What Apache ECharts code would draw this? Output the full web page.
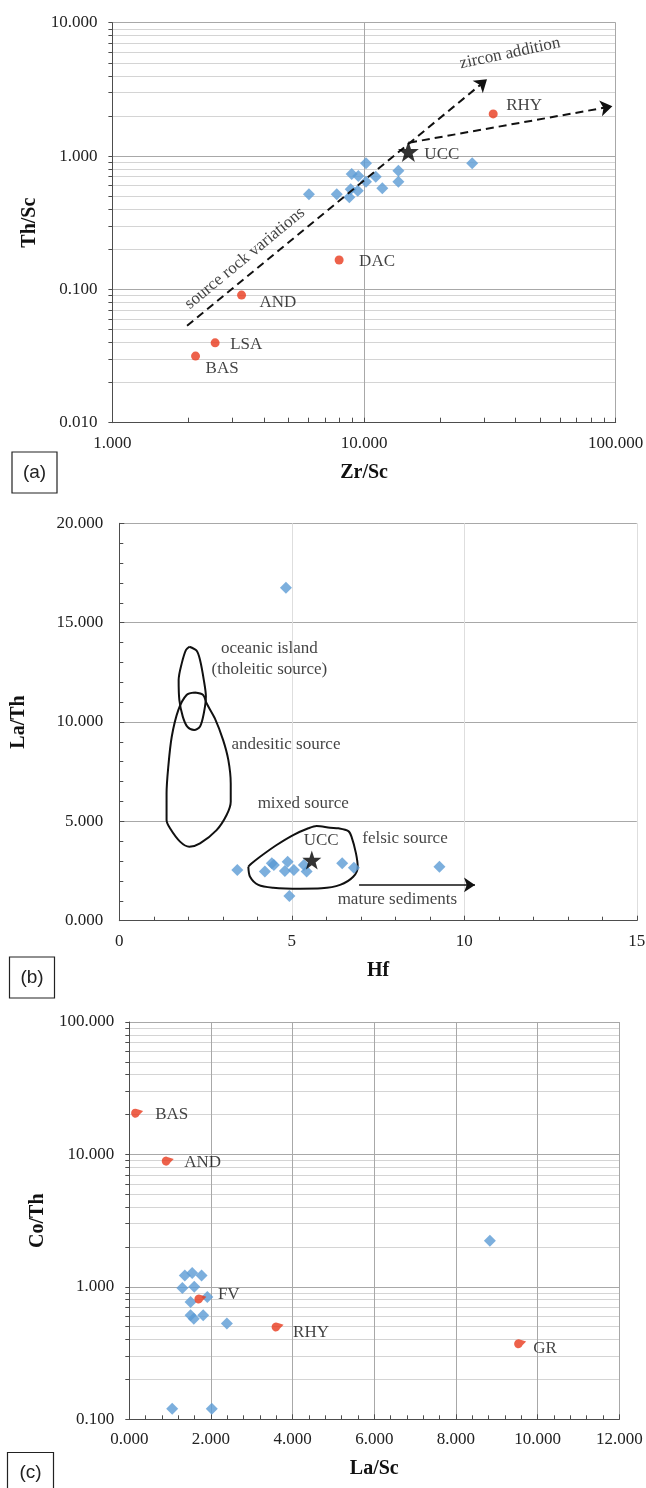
<!DOCTYPE html>
<html>
<head>
<meta charset="utf-8">
<script src="https://cdn.jsdelivr.net/npm/echarts@6/dist/echarts.min.js"></script>
<style>
  html, body { margin: 0; padding: 0; background: #ffffff; }
  #chart { width: 646px; height: 1488px; }
</style>
</head>
<body>
<div id="chart"></div>
<script>
// ---------- (a) Th/Sc vs Zr/Sc ----------
const zrScSamples = [6.04, 7.79, 8.74, 8.93, 9.49, 8.85, 9.44, 10.18, 10.18, 11.13, 11.82, 13.69, 13.69, 26.9];
const thScSamples = [0.516, 0.516, 0.490, 0.733, 0.708, 0.563, 0.549, 0.882, 0.641, 0.700, 0.573, 0.776, 0.641, 0.882];
const rockNamesA = ['BAS', 'LSA', 'AND', 'DAC', 'RHY'];
const zrScRocks = [2.14, 2.56, 3.26, 7.96, 32.6];
const thScRocks = [0.0316, 0.0397, 0.0906, 0.166, 2.07];
const uccZrSc = 15.0;
const uccThSc = 1.08;
const sourceRockTrend = [[1.98, 0.0533], [30.8, 3.76]];
const zirconTrend = [[15.1, 1.26], [97, 2.36]];
const logTicksA_x = [1, 10, 100];
const logTicksA_y = [0.01, 0.1, 1, 10];

// ---------- (b) La/Th vs Hf ----------
const hfSamples = [4.83, 3.42, 4.22, 4.42, 4.48, 4.80, 4.88, 5.06, 5.35, 5.43, 6.46, 6.80, 9.28, 4.93];
const laThSamples = [16.76, 2.55, 2.47, 2.89, 2.80, 2.50, 2.97, 2.55, 2.80, 2.47, 2.89, 2.67, 2.72, 1.24];
const uccHf = 5.58;
const uccLaTh = 3.05;
const oceanicIslandField = [
  [2.03, 13.79], [2.24, 13.59], [2.34, 13.12], [2.45, 12.11], [2.51, 11.28], [2.45, 10.44],
  [2.34, 9.77], [2.17, 9.60], [1.97, 9.77], [1.84, 10.27], [1.74, 11.11], [1.72, 12.11],
  [1.81, 12.95], [1.93, 13.62], [2.03, 13.79]
];
const andesiticField = [
  [2.19, 11.48], [2.43, 11.36], [2.53, 10.94], [2.77, 10.18], [3.01, 9.09], [3.16, 8.09],
  [3.23, 6.91], [3.23, 5.99], [3.11, 5.32], [2.82, 4.56], [2.34, 3.89], [2.03, 3.72],
  [1.76, 3.98], [1.47, 4.65], [1.37, 5.07], [1.37, 6.41], [1.42, 7.75], [1.52, 9.26],
  [1.71, 10.60], [1.95, 11.36], [2.19, 11.48]
];
const felsicField = [
  [3.74, 2.72], [3.79, 2.21], [4.03, 1.80], [4.46, 1.66], [5.24, 1.61], [5.86, 1.63],
  [6.40, 1.80], [6.78, 2.21], [6.91, 2.72], [6.86, 3.39], [6.73, 4.23], [6.64, 4.51],
  [6.35, 4.65], [6.11, 4.68], [5.72, 4.77], [5.48, 4.65], [5.04, 4.31], [4.56, 3.81],
  [4.08, 3.22], [3.84, 2.89], [3.74, 2.72]
];
const matureSedimentTrend = [[6.95, 1.80], [10.31, 1.80]];

// ---------- (c) Co/Th vs La/Sc ----------
const laScSamples = [1.36, 1.54, 1.77, 1.30, 1.59, 1.91, 1.50, 1.50, 1.58, 1.81, 2.39, 1.05, 2.02, 8.83];
const coThSamples = [1.22, 1.27, 1.22, 0.98, 1.00, 0.84, 0.77, 0.61, 0.575, 0.61, 0.53, 0.12, 0.12, 2.23];
const rockNamesC = ['BAS', 'AND', 'FV', 'RHY', 'GR'];
const laScRocks = [0.15, 0.90, 1.70, 3.59, 9.53];
const coThRocks = [20.5, 8.9, 0.81, 0.498, 0.372];

// ---------- styling ----------
const SERIF = '"Liberation Serif", "Times New Roman", serif';
const SANS = '"Liberation Sans", Arial, sans-serif';
const BLUE = '#5b9bd5';
const RED = '#e8391d';
const INK = '#111111';
const AXIS = '#4d4d4d';
const GRID_MAJOR = '#a8a8a8';
const GRID_MINOR = '#d4d4d4';
const STAR = 'path://M50,0 L61.76,33.82 L97.55,34.55 L69.02,56.18 L79.39,90.45 L50,70 L20.61,90.45 L30.98,56.18 L2.45,34.55 L38.24,33.82 Z';
const COMET = 'path://M7.5,0.67 L14,2.6 L9.7,6.71 A5,5 0 1,1 7.5,0.67 Z';

const pairs = (xs, ys) => xs.map((x, i) => [x, ys[i]]);
const tickLabel = { fontFamily: SERIF, fontSize: 17, color: '#222' };
const titleStyle = { fontFamily: SERIF, fontSize: 20, fontWeight: 'bold', color: INK };
const annoLabel = { show: true, fontFamily: SERIF, fontSize: 17, color: INK, textBorderWidth: 0, textShadowBlur: 0 };

// label placement next to reference-rock markers (pixels from the marker centre)
const rockLabelShiftA = { BAS: [10, 12], LSA: [15, 2], AND: [18, 7], DAC: [20, 2], RHY: [13, -8] };
const rockLabelShiftC = { BAS: [18, 1], AND: [16.5, 1], FV: [17.5, -4], RHY: [15.5, 6], GR: [13, 5] };

function rockItems(names, xs, ys, shifts) {
  return names.map((n, i) => ({
    name: n,
    value: [xs[i], ys[i]],
    label: { offset: shifts[n] }
  }));
}

function textItems(list) {
  return list.map(t => ({
    value: t.at,
    label: { formatter: t.text, rotate: t.rotate || 0, align: t.align || 'center' }
  }));
}

const annotationsA = [
  { text: 'source rock variations', at: [3.36, 0.171], rotate: 39.5 },
  { text: 'zircon addition', at: [38.0, 5.89], rotate: 12 }
];
const annotationsB = [
  { text: 'oceanic island', at: [4.35, 13.71] },
  { text: '(tholeitic source)', at: [4.35, 12.65] },
  { text: 'andesitic source', at: [4.83, 8.89] },
  { text: 'mixed source', at: [5.33, 5.91] },
  { text: 'UCC', at: [5.85, 4.03] },
  { text: 'felsic source', at: [8.28, 4.15] },
  { text: 'mature sediments', at: [8.06, 1.09] }
];

function logAxis(gridIndex, min, max, extra) {
  return Object.assign({
    type: 'log', logBase: 10, gridIndex, min, max,
    axisLine: { show: true, lineStyle: { color: AXIS, width: 1 } },
    axisLabel: Object.assign({ formatter: v => Number(v).toFixed(3), showMinLabel: true, showMaxLabel: true }, tickLabel),
    splitLine: { show: true, lineStyle: { color: GRID_MAJOR, width: 1 } },
    nameTextStyle: titleStyle,
    nameLocation: 'middle'
  }, extra);
}

function valueAxis(gridIndex, min, max, interval, extra) {
  return Object.assign({
    type: 'value', gridIndex, min, max, interval,
    axisLine: { show: true, lineStyle: { color: AXIS, width: 1 } },
    axisTick: { show: true, inside: true, length: 5, lineStyle: { color: AXIS } },
    minorTick: { show: true, splitNumber: 5, length: 4, lineStyle: { color: AXIS } },
    splitLine: { show: true, lineStyle: { color: GRID_MAJOR, width: 1 } },
    nameTextStyle: titleStyle,
    nameLocation: 'middle'
  }, extra);
}

const option = {
  animation: false,
  backgroundColor: '#ffffff',
  grid: [
    { left: 112.4, top: 22.7, width: 503.3, height: 400, outerBoundsMode: 'none', containLabel: false },
    { left: 119.3, top: 523.3, width: 517.5, height: 397.4, outerBoundsMode: 'none', containLabel: false },
    { left: 129.3, top: 1022, width: 490, height: 397.3, outerBoundsMode: 'none', containLabel: false }
  ],
  xAxis: [
    logAxis(0, logTicksA_x[0], logTicksA_x[2], {
      name: 'Zr/Sc', nameGap: 40,
      axisTick: { show: true, inside: true, length: 5, lineStyle: { color: AXIS } },
      minorTick: { show: true, splitNumber: 9, length: 5, lineStyle: { color: AXIS } },
      axisLabel: Object.assign({ formatter: v => Number(v).toFixed(3), margin: 12, showMinLabel: true, showMaxLabel: true }, tickLabel)
    }),
    valueAxis(1, 0, 15, 5, {
      name: 'Hf', nameGap: 40,
      splitLine: { show: true, lineStyle: { color: '#dedede', width: 1 } },
      axisLabel: Object.assign({ margin: 12 }, tickLabel)
    }),
    valueAxis(2, 0, 12, 2, {
      name: 'La/Sc', nameGap: 40,
      axisLabel: Object.assign({ formatter: v => Number(v).toFixed(3), margin: 12 }, tickLabel)
    })
  ],
  yAxis: [
    logAxis(0, logTicksA_y[0], logTicksA_y[3], {
      name: 'Th/Sc', nameGap: 70,
      axisTick: { show: true, inside: false, length: 4, lineStyle: { color: AXIS } },
      minorTick: { show: true, splitNumber: 9, length: 4, lineStyle: { color: AXIS } },
      minorSplitLine: { show: true, lineStyle: { color: GRID_MINOR, width: 1 } },
      axisLabel: Object.assign({ formatter: v => Number(v).toFixed(3), margin: 15, showMinLabel: true, showMaxLabel: true }, tickLabel)
    }),
    valueAxis(1, 0, 20, 5, {
      name: 'La/Th', nameGap: 90,
      axisLabel: Object.assign({ formatter: v => Number(v).toFixed(3), margin: 16 }, tickLabel)
    }),
    logAxis(2, 0.1, 100, {
      name: 'Co/Th', nameGap: 79,
      axisTick: { show: true, inside: false, length: 4, lineStyle: { color: AXIS } },
      minorTick: { show: true, splitNumber: 9, length: 4, lineStyle: { color: AXIS } },
      minorSplitLine: { show: true, lineStyle: { color: GRID_MINOR, width: 1 } },
      axisLabel: Object.assign({ formatter: v => Number(v).toFixed(3), margin: 15, showMinLabel: true, showMaxLabel: true }, tickLabel)
    })
  ],
  series: [
    // (a) samples, with the two trend arrows
    {
      type: 'scatter', xAxisIndex: 0, yAxisIndex: 0, z: 3,
      symbol: 'diamond', symbolSize: 12,
      itemStyle: { color: BLUE },
      data: pairs(zrScSamples, thScSamples),
      markLine: {
        silent: true, animation: false,
        symbol: ['none', 'arrow'], symbolSize: 12,
        label: { show: false },
        lineStyle: { color: '#111', width: 2, type: [8, 5] },
        emphasis: { disabled: true },
        data: [
          [{ coord: sourceRockTrend[0] }, { coord: sourceRockTrend[1] }],
          [{ coord: zirconTrend[0] }, { coord: zirconTrend[1] }]
        ]
      }
    },
    // (a) reference rocks
    {
      type: 'scatter', xAxisIndex: 0, yAxisIndex: 0, z: 4,
      symbol: 'circle', symbolSize: 9,
      itemStyle: { color: RED },
      label: Object.assign({ position: 'inside', align: 'left', verticalAlign: 'middle', formatter: '{b}' }, annoLabel),
      data: rockItems(rockNamesA, zrScRocks, thScRocks, rockLabelShiftA)
    },
    // (a) upper continental crust
    {
      type: 'scatter', xAxisIndex: 0, yAxisIndex: 0, z: 5,
      symbol: STAR, symbolSize: 21,
      itemStyle: { color: '#000' },
      label: Object.assign({ position: 'inside', align: 'left', verticalAlign: 'middle', formatter: 'UCC', offset: [16, 3] }, annoLabel),
      data: [[uccZrSc, uccThSc]]
    },
    // (a) text annotations
    {
      type: 'scatter', xAxisIndex: 0, yAxisIndex: 0, z: 6,
      symbolSize: 1, itemStyle: { color: 'rgba(0,0,0,0)' },
      label: Object.assign({ position: 'inside', verticalAlign: 'middle' }, annoLabel),
      data: textItems(annotationsA)
    },
    // (b) provenance fields
    ...[oceanicIslandField, andesiticField, felsicField].map(field => ({
      type: 'line', xAxisIndex: 1, yAxisIndex: 1, z: 2,
      data: field, smooth: 0.3, showSymbol: false, symbol: 'none',
      lineStyle: { color: '#111', width: 2 },
      silent: true
    })),
    // (b) samples
    {
      type: 'scatter', xAxisIndex: 1, yAxisIndex: 1, z: 3,
      symbol: 'diamond', symbolSize: 12,
      itemStyle: { color: BLUE },
      data: pairs(hfSamples, laThSamples)
    },
    // (b) upper continental crust
    {
      type: 'scatter', xAxisIndex: 1, yAxisIndex: 1, z: 5,
      symbol: STAR, symbolSize: 19,
      itemStyle: { color: '#000' },
      data: [[uccHf, uccLaTh]]
    },
    // (b) text annotations and the mature-sediment arrow
    {
      type: 'scatter', xAxisIndex: 1, yAxisIndex: 1, z: 6,
      symbolSize: 1, itemStyle: { color: 'rgba(0,0,0,0)' },
      label: Object.assign({ position: 'inside', verticalAlign: 'middle' }, annoLabel),
      data: textItems(annotationsB),
      markLine: {
        silent: true, animation: false,
        symbol: ['none', 'arrow'], symbolSize: 11,
        label: { show: false },
        lineStyle: { color: '#111', width: 1.6, type: 'solid' },
        emphasis: { disabled: true },
        data: [[{ coord: matureSedimentTrend[0] }, { coord: matureSedimentTrend[1] }]]
      }
    },
    // (c) samples
    {
      type: 'scatter', xAxisIndex: 2, yAxisIndex: 2, z: 3,
      symbol: 'diamond', symbolSize: 12,
      itemStyle: { color: BLUE },
      data: pairs(laScSamples, coThSamples)
    },
    // (c) reference rocks
    {
      type: 'scatter', xAxisIndex: 2, yAxisIndex: 2, z: 4,
      symbol: COMET, symbolSize: [12, 9], symbolOffset: [1.7, 0],
      itemStyle: { color: RED },
      label: Object.assign({ position: 'inside', align: 'left', verticalAlign: 'middle', formatter: '{b}' }, annoLabel),
      data: rockItems(rockNamesC, laScRocks, coThRocks, rockLabelShiftC)
    }
  ],
  graphic: [
    { type: 'rect', shape: { x: 12, y: 452, width: 45, height: 41 }, style: { fill: '#fff', stroke: '#222', lineWidth: 1.2 } },
    { type: 'text', x: 34.5, y: 472.5, style: { text: '(a)', font: '19px ' + SANS, fill: '#222', align: 'center', verticalAlign: 'middle', textAlign: 'center', textVerticalAlign: 'middle' } },
    { type: 'rect', shape: { x: 9.5, y: 957, width: 45, height: 41 }, style: { fill: '#fff', stroke: '#222', lineWidth: 1.2 } },
    { type: 'text', x: 32, y: 977.5, style: { text: '(b)', font: '19px ' + SANS, fill: '#222', align: 'center', verticalAlign: 'middle', textAlign: 'center', textVerticalAlign: 'middle' } },
    { type: 'rect', shape: { x: 7.5, y: 1452.5, width: 46, height: 41 }, style: { fill: '#fff', stroke: '#222', lineWidth: 1.2 } },
    { type: 'text', x: 30.5, y: 1472.5, style: { text: '(c)', font: '19px ' + SANS, fill: '#222', align: 'center', verticalAlign: 'middle', textAlign: 'center', textVerticalAlign: 'middle' } }
  ]
};

const chart = echarts.init(document.getElementById('chart'), null, { renderer: 'canvas' });
chart.setOption(option);
</script>
</body>
</html>
